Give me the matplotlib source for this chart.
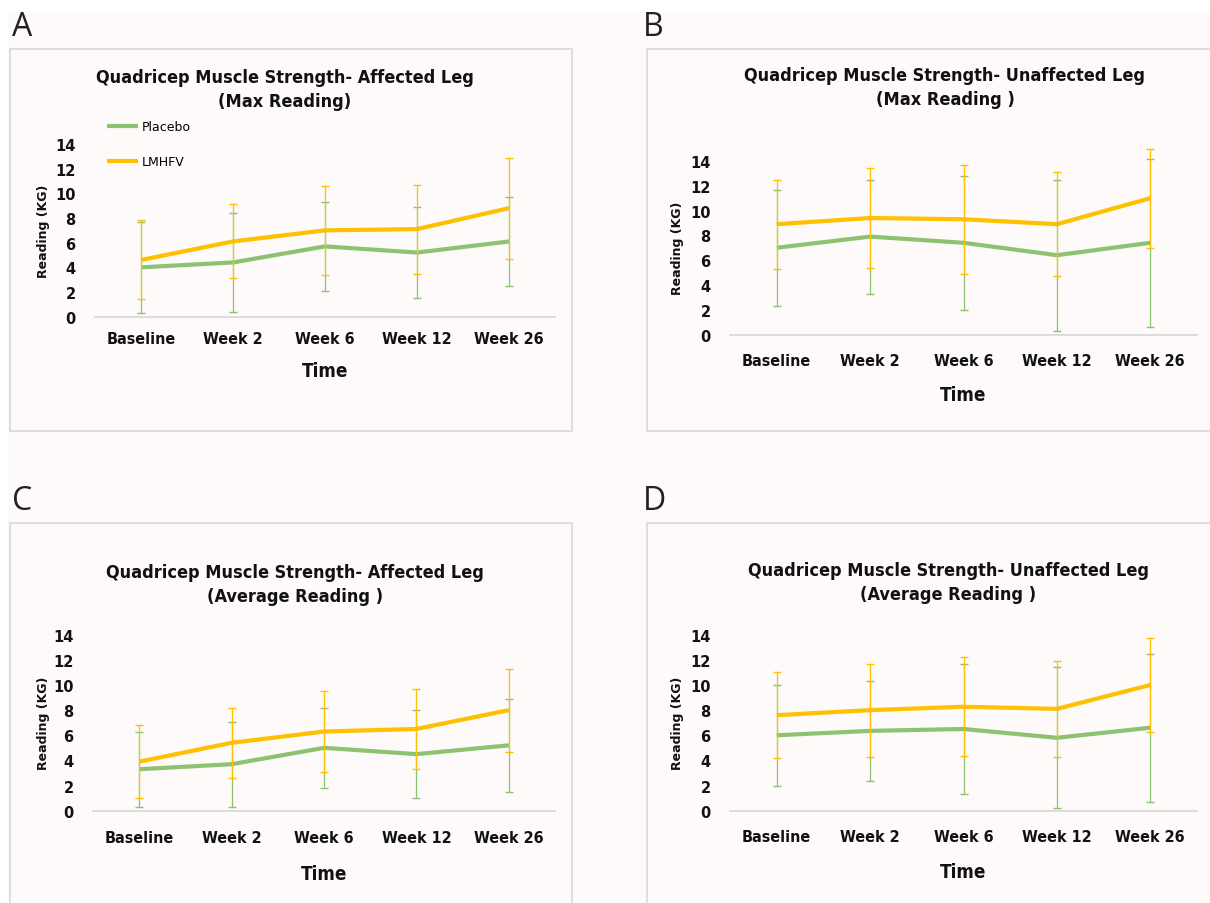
import matplotlib
matplotlib.use("Agg")
import matplotlib.pyplot as plt
from matplotlib import font_manager
from matplotlib.patches import Rectangle

# ---------------- data ----------------
categories = ["Baseline", "Week 2", "Week 6", "Week 12", "Week 26"]
series_names = ["Placebo", "LMHFV"]

# Panel A: affected leg, max reading
a_placebo = [4.0, 4.4, 5.7, 5.2, 6.1]
a_placebo_err = [3.7, 4.0, 3.6, 3.7, 3.6]
a_lmhfv = [4.6, 6.1, 7.0, 7.1, 8.8]
a_lmhfv_err = [3.2, 3.0, 3.6, 3.6, 4.1]

# Panel B: unaffected leg, max reading
b_placebo = [7.0, 7.9, 7.4, 6.4, 7.4]
b_placebo_err = [4.7, 4.6, 5.4, 6.1, 6.8]
b_lmhfv = [8.9, 9.4, 9.3, 8.9, 11.0]
b_lmhfv_err = [3.6, 4.0, 4.4, 4.2, 4.0]

# Panel C: affected leg, average reading
c_placebo = [3.3, 3.7, 5.0, 4.5, 5.2]
c_placebo_err = [3.0, 3.37, 3.2, 3.5, 3.7]
c_lmhfv = [3.9, 5.4, 6.3, 6.5, 8.0]
c_lmhfv_err = [2.9, 2.8, 3.2, 3.2, 3.3]

# Panel D: unaffected leg, average reading
d_placebo = [6.0, 6.35, 6.5, 5.8, 6.6]
d_placebo_err = [4.0, 4.0, 5.2, 5.6, 5.9]
d_lmhfv = [7.6, 8.0, 8.27, 8.1, 10.0]
d_lmhfv_err = [3.4, 3.7, 3.95, 3.8, 3.7]

titles = [
    "Quadricep Muscle Strength- Affected Leg\n(Max Reading)",
    "Quadricep Muscle Strength- Unaffected Leg\n(Max Reading )",
    "Quadricep Muscle Strength- Affected Leg\n(Average Reading )",
    "Quadricep Muscle Strength- Unaffected Leg\n(Average Reading )",
]
panel_letters = ["A", "B", "C", "D"]
y_ticks = [0, 2, 4, 6, 8, 10, 12, 14]

# ---------------- style ----------------
GREEN = "#8cc271"
ORANGE = "#ffc000"
BG = "#fdfaf9"
BORDER = "#d9d9d9"
TXT = "#111111"

names = {f.name for f in font_manager.fontManager.ttflist}
if "Liberation Sans Narrow" in names:
    NARROW = dict(family="Liberation Sans Narrow")
else:
    NARROW = dict(family="DejaVu Sans", stretch="condensed")

W, H = 1210, 904
fig = plt.figure(figsize=(W / 100, H / 100), dpi=100, facecolor="white")


def fx(x):
    return x / W


def fy(y):
    return 1 - y / H


# off-white background
fig.patches.append(Rectangle((fx(7), 0), 1 - fx(7), fy(13), transform=fig.transFigure,
                             facecolor=BG, edgecolor="none", zorder=-3))

# panel boxes (left, top, right, bottom) in px
boxes = [(10, 50, 572, 432), (647, 50, 1212, 432), (10, 524, 572, 910), (647, 524, 1212, 910)]
for (l, t, r, b) in boxes:
    fig.patches.append(Rectangle((fx(l), fy(b)), fx(r - l), (b - t) / H, transform=fig.transFigure,
                                 facecolor=BG, edgecolor=BORDER, lw=1.2, zorder=-2))

letter_pos = [(12, 28), (643, 28), (12, 502), (643, 502)]

# plot areas (left, top(y=14), right, bottom(y=0))
areas = [(95, 145, 555, 317.7), (730, 162, 1197, 335.5), (93, 635.7, 555, 811.7), (730, 635.7, 1197, 811.7)]
title_pos = [(285, 90), (945, 88), (295, 585), (948, 583)]
ylabel_x = [43, 678, 43, 678]
cat_y = [340, 362, 839, 838]
time_y = [372, 396, 875, 873]

data = [
    (a_placebo, a_placebo_err, a_lmhfv, a_lmhfv_err),
    (b_placebo, b_placebo_err, b_lmhfv, b_lmhfv_err),
    (c_placebo, c_placebo_err, c_lmhfv, c_lmhfv_err),
    (d_placebo, d_placebo_err, d_lmhfv, d_lmhfv_err),
]

x = list(range(len(categories)))
for i, (pl, ple, lm, lme) in enumerate(data):
    l, t, r, b = areas[i]
    ax = fig.add_axes([fx(l), fy(b), fx(r - l), (b - t) / H])
    ax.set_facecolor("none")
    ax.set_zorder(1)
    lp, = ax.plot(x, pl, color=GREEN, lw=3.0, solid_capstyle="butt", zorder=3, label=series_names[0])
    lo, = ax.plot(x, lm, color=ORANGE, lw=3.0, solid_capstyle="butt", zorder=4, label=series_names[1])
    e1 = ax.errorbar(x, pl, yerr=ple, fmt="none", ecolor=GREEN, elinewidth=0.9, capsize=3, capthick=1.0, zorder=5)
    e2 = ax.errorbar(x, lm, yerr=lme, fmt="none", ecolor=ORANGE, elinewidth=0.9, capsize=3, capthick=1.0, zorder=6)
    for e in (e1, e2):
        for art in list(e.lines[1]) + list(e.lines[2]):
            art.set_clip_on(False)
    ax.set_xlim(-0.5, len(categories) - 0.5)
    ax.set_ylim(0, 14)
    ax.set_yticks(y_ticks)
    ax.set_yticklabels([str(v) for v in y_ticks], fontsize=10.5, fontweight="bold", color=TXT)
    ax.set_xticks(x)
    ax.set_xticklabels([])
    ax.tick_params(length=0, pad=14)
    for s in ["top", "right", "left"]:
        ax.spines[s].set_visible(False)
    ax.spines["bottom"].set_color(BORDER)
    ax.spines["bottom"].set_linewidth(1.3)
    ax.spines["bottom"].set_zorder(1)

    # category labels
    for k, c in enumerate(categories):
        xp = l + (r - l) * (k + 0.5) / len(categories)
        fig.text(fx(xp), fy(cat_y[i]), c, ha="center", va="center", fontsize=11.5,
                 fontweight="bold", color=TXT, **NARROW)
    fig.text(fx((l + r) / 2), fy(time_y[i]), "Time", ha="center", va="center", fontsize=13.5,
             fontweight="bold", color=TXT, **NARROW)
    fig.text(fx(ylabel_x[i]), fy((t + b) / 2), "Reading (KG)", rotation=90, ha="center", va="center",
             fontsize=9, fontweight="bold", color=TXT, family="DejaVu Sans")
    fig.text(fx(title_pos[i][0]), fy(title_pos[i][1]), titles[i], ha="center", va="center",
             fontsize=13, fontweight="bold", color=TXT, linespacing=1.45, **NARROW)
    fig.text(fx(letter_pos[i][0]), fy(letter_pos[i][1]), panel_letters[i], ha="left", va="center",
             fontsize=23, color="#222222", family="Open Sans")

    if i == 0:
        ax.legend(handles=[lp, lo], loc="upper left", bbox_to_anchor=(fx(107), fy(121)),
                  bbox_transform=fig.transFigure, frameon=False,
                  handlelength=2.5, handletextpad=0.25, labelspacing=1.75,
                  borderpad=0, borderaxespad=0, prop=dict(family="DejaVu Sans", size=9))

fig.savefig("out.png", dpi=100, facecolor="white")
